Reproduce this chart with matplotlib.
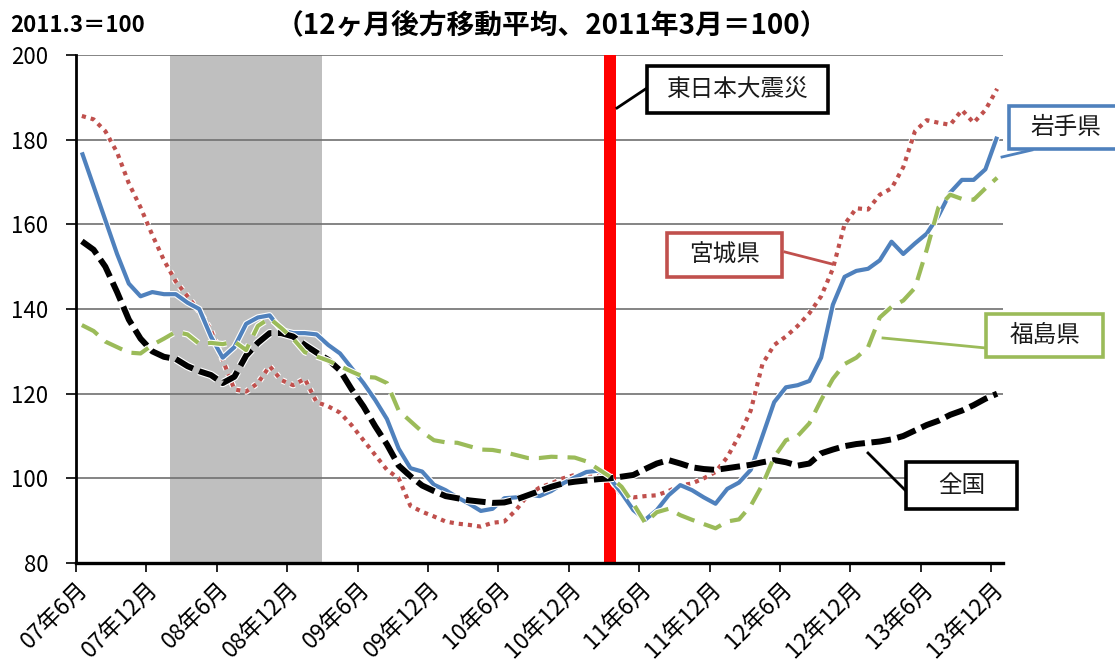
import matplotlib
matplotlib.use("Agg")
import matplotlib.pyplot as plt
import matplotlib.patheffects as pe
import matplotlib.transforms as mtransforms
from matplotlib.patches import Rectangle
from matplotlib.lines import Line2D

plt.rcParams['font.family'] = ['Noto Sans CJK JP', 'DejaVu Sans']

# ---- data (monthly, 2007-06 .. 2013-12) ----
months_n = 79
iwate = [177, 169, 161, 153, 146, 143, 144, 143.5, 143.5, 141.5,
         140, 133.5, 128.5, 131, 136.5, 138, 138.5, 135, 134.3, 134.3,
         134, 131.5, 129.5, 126, 122.5, 118.5, 114, 107, 102.4, 101.6,
         98.5, 97.2, 95.5, 94, 92.3, 92.8, 95.3, 95.5, 96.2, 95.8,
         97, 98.8, 100.2, 101.5, 101.8, 100, 96.5, 92.5, 90.2, 92.5,
         96, 98.4, 97.2, 95.5, 94, 97.5, 99, 102, 110, 118,
         121.5, 122, 123, 128.5, 141, 147.6, 149, 149.5, 151.5, 155.9,
         153, 155.5, 157.8, 162, 167.5, 170.5, 170.5, 173, 180.7]
miyagi = [185.6, 184.8, 182, 177, 169.7, 164, 157.5, 151.5, 146.5, 143,
          139.5, 135, 128, 121, 120.5, 122.5, 126.5, 123.2, 122, 123.5,
          118, 117, 115.5, 112.5, 109, 105.5, 102, 100, 93.5, 92.1,
          91, 89.8, 89.3, 89, 88.6, 89.5, 89.8, 92.5, 96, 97.8,
          98.8, 100, 100.8, 101.2, 101, 100, 96, 95.5, 95.8, 96,
          97, 98.3, 98.8, 100, 101.5, 105, 110, 116, 127, 131.5,
          133.5, 136, 139, 143, 149.5, 160, 163.8, 163.5, 167, 168.5,
          173.5, 182, 184.6, 184, 183.5, 187, 184, 187, 192]
fukushima = [136.2, 134.8, 132.3, 131, 129.7, 129.5, 131.5, 133, 134.6, 134,
             131.8, 132, 131.7, 132.3, 130.3, 136, 137.8, 135.5, 133, 129.8,
             128.8, 127.8, 126.5, 125.2, 124, 123.8, 122.5, 116, 113.5, 111,
             109, 108.5, 108.4, 107.6, 106.8, 106.7, 106.2, 105.5, 104.8, 104.8,
             105.1, 105, 104.9, 104, 102.2, 100.4, 98, 94, 89.5, 92,
             92.8, 91.3, 90.2, 89.2, 88.2, 89.8, 90.3, 93.5, 98.5, 105,
             109, 110, 113, 118.5, 123.5, 127, 128.5, 131, 138, 140.5,
             142, 145, 154, 164, 167, 166, 165.8, 168.5, 171]
zenkoku = [156, 154, 150, 144, 137.5, 133, 130, 128.7, 128.2, 126.5,
           125.3, 124.4, 122.5, 124, 129, 132, 134.3, 134.3, 133.5, 131.5,
           129.7, 128, 125.5, 121, 117, 112.3, 108, 103, 100.5, 98.3,
           97, 95.8, 95.3, 94.8, 94.5, 94.2, 94.3, 95, 96, 97,
           98, 98.8, 99.2, 99.5, 99.8, 100, 100.4, 100.8, 102.2, 103.5,
           104.3, 103.5, 102.6, 102.2, 102, 102.4, 102.8, 103.2, 103.8, 104.3,
           103.8, 103, 103.5, 105.9, 106.8, 107.6, 108.1, 108.4, 108.7, 109.2,
           110, 111.3, 112.6, 113.6, 115, 116, 117.3, 118.8, 120]

tick_labels = ['07年6月', '07年12月', '08年6月', '08年12月', '09年6月', '09年12月',
               '10年6月', '10年12月', '11年6月', '11年12月', '12年6月', '12年12月',
               '13年6月', '13年12月']
tick_month_idx = [0, 6, 12, 18, 24, 30, 36, 42, 48, 54, 60, 66, 72, 78]
recession = (8, 20)      # 2008-02 .. 2009-02
quake = 45               # 2011-03
yticks = [80, 100, 120, 140, 160, 180, 200]

W, H = 1115, 666
fig = plt.figure(figsize=(W / 100, H / 100), dpi=100)
ax = fig.add_axes([76 / W, 1 - 563 / H, (1003 - 76) / W, (563 - 55) / H])

x = list(range(months_n))
ax.set_xlim(-0.5, months_n - 0.5)
ax.set_ylim(80, 200)

ax.axvspan(recession[0] - 0.5, recession[1] + 0.5, color='#BFBFBF', zorder=0, lw=0)
ax.axvspan(quake - 0.5, quake + 0.5, color='#FF0000', zorder=1, lw=0)

for yv in yticks[1:]:
    ax.axhline(yv, color='#707070', lw=1.2, zorder=0.5)

halo = lambda w: [pe.Stroke(linewidth=w + 1.6, foreground='white'), pe.Normal()]

ax.plot(x, miyagi, color='#C0504D', lw=3, linestyle=(0, (1, 1.2)),
        dash_capstyle='butt', zorder=3, path_effects=halo(3))
ax.plot(x, iwate, color='#4F81BD', lw=3, zorder=4, path_effects=halo(3),
        solid_capstyle='butt')
ax.plot(x, zenkoku, color='black', lw=4.3, linestyle=(0, (3.3, 1.1)),
        dash_capstyle='butt', zorder=5, path_effects=halo(4.3))
ax.plot(x, fukushima, color='#9BBB59', lw=3, linestyle=(0, (4.5, 2.4)),
        dash_capstyle='butt', zorder=6, path_effects=halo(3))

ax.set_yticks(yticks)
ax.set_yticklabels([str(v) for v in yticks], fontsize=16)
ax.set_xticks([i - 0.5 for i in tick_month_idx])
ax.set_xticklabels(tick_labels, rotation=45, ha='right', va='top',
                   rotation_mode='anchor', fontsize=16.5)
offset = mtransforms.ScaledTranslation(7 / 100, -6 / 100, fig.dpi_scale_trans)
for lab in ax.get_xticklabels():
    lab.set_transform(lab.get_transform() + offset)
ax.tick_params(axis='x', length=6.5, width=1.2, pad=4)
ax.tick_params(axis='y', length=7, width=1.2, pad=13)

for s in ['top', 'right']:
    ax.spines[s].set_visible(False)
ax.spines['left'].set_linewidth(2)
ax.spines['bottom'].set_linewidth(2.4)

# titles
fig.text(10 / W, 1 - 25 / H, '2011.3＝100', fontsize=16, fontweight='bold',
         ha='left', va='center')
fig.text(552 / W, 1 - 25 / H, '（12ヶ月後方移動平均、2011年3月＝100）',
         fontsize=20, fontweight='bold', ha='center', va='center')


def fx(px):
    return px / W


def fy(py):
    return 1 - py / H


def callout(x0, y0, x1, y1, text, color, lead):
    fig.add_artist(Rectangle((fx(x0), fy(y1)), fx(x1) - fx(x0), fy(y0) - fy(y1),
                             transform=fig.transFigure, facecolor='white',
                             edgecolor=color, lw=2.6, zorder=10))
    fig.text(fx((x0 + x1) / 2), fy((y0 + y1) / 2), text, fontsize=17,
             ha='center', va='center', color='#1a1a1a', zorder=11)
    (lx0, ly0), (lx1, ly1) = lead
    fig.add_artist(Line2D([fx(lx0), fx(lx1)], [fy(ly0), fy(ly1)],
                          transform=fig.transFigure, color=color, lw=2, zorder=9))


callout(647, 66, 828, 113, '東日本大震災', 'black', ((617, 108), (647, 88)))
callout(1009, 106, 1122, 149, '岩手県', '#4F81BD', ((1002, 157), (1032, 150)))
callout(667, 233, 782, 277, '宮城県', '#C0504D', ((785, 252), (832, 264)))
callout(986, 314, 1103, 357, '福島県', '#9BBB59', ((883, 338), (986, 348)))
callout(906, 462, 1017, 509, '全国', 'black', ((868, 453), (906, 491)))

fig.savefig('out.png', dpi=100)
